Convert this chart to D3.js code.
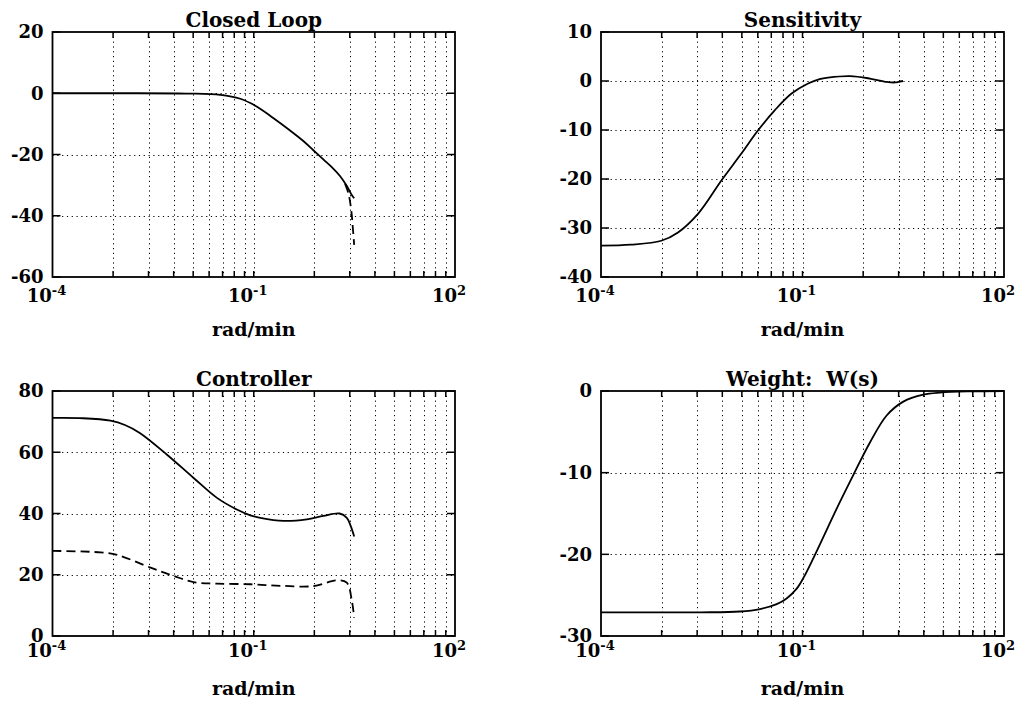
<!DOCTYPE html>
<html>
<head>
<meta charset="utf-8">
<script src="https://cdn.jsdelivr.net/npm/d3@7"></script>
<style>
  body { margin: 0; background: #fff; }
  svg text { font-family: "DejaVu Serif", serif; font-weight: bold; fill: #000; }
</style>
</head>
<body>
<svg id="fig" width="1020" height="703"></svg>
<script>
// ---- frequency responses (rad/min, dB) ----
const closedLoopFreq = [1e-4, 1e-3, 0.01, 0.0317, 0.063, 0.112, 0.195, 0.344, 0.548, 0.773, 1.09, 1.53, 1.93, 2.43, 2.89, 3.14];
const closedLoopMag  = [0, 0, -0.1, -0.5, -1.8, -4.4, -8.1, -12.1, -15.6, -18.6, -21.6, -24.6, -27.0, -30.2, -33.2, -34.3];
const closedLoopAltFreq = [2.3, 2.6, 2.85, 3.0, 3.14];
const closedLoopAltMag  = [-29.6, -33.0, -38.5, -44.0, -49.5];

const sensitivityFreq = [1e-4, 2.8e-4, 7.9e-4, 1.4e-3, 2.78e-3, 6.2e-3, 0.0123, 0.0217, 0.0385, 0.068, 0.121, 0.18, 0.24, 0.51, 1.01, 1.79, 2.4, 2.83, 3.14];
const sensitivityMag  = [-33.6, -33.4, -32.6, -30.9, -27.1, -20.3, -14.8, -10.1, -6.0, -2.6, -0.5, 0.4, 0.7, 1.0, 0.5, -0.2, -0.3, -0.1, 0];

const controllerFreq = [1e-4, 2.85e-4, 7.3e-4, 1.2e-3, 2.0e-3, 5.1e-3, 0.0127, 0.0283, 0.056, 0.089, 0.125, 0.278, 0.62, 1.09, 1.9, 2.44, 2.8, 3.14];
const controllerMag  = [71.2, 71.1, 70.3, 68.9, 66.3, 59.2, 51.6, 45.1, 41.3, 39.4, 38.6, 37.6, 38.1, 39.2, 40.0, 38.6, 35.8, 32.5];
const controllerAltFreq = [1e-4, 5.2e-4, 9.2e-4, 2.9e-3, 6.4e-3, 0.0127, 0.0283, 0.089, 0.248, 0.78, 1.73, 2.44, 2.9, 3.14];
const controllerAltMag  = [27.8, 27.3, 26.5, 22.3, 19.6, 17.6, 17.1, 16.9, 16.4, 16.3, 18.2, 17.4, 11.5, 6.0];

const weightFreq = [1e-4, 3e-3, 0.0117, 0.0233, 0.0413, 0.058, 0.082, 0.103, 0.163, 0.323, 0.57, 1.01, 1.79, 3.17, 6.3, 11.1, 30, 100];
const weightMag  = [-27.1, -27.1, -27.0, -26.7, -26.1, -25.4, -24.2, -22.9, -19.6, -14.4, -10.3, -6.3, -3.0, -1.3, -0.45, -0.2, -0.05, 0];

// ---- axes text ----
const titles = ["Closed Loop", "Sensitivity", "Controller", "Weight:  W(s)"];
const xLabel = "rad/min";
const xTickValues = [1e-4, 1e-1, 1e2];
const xTickExponents = ["-4", "-1", "2"];
const xDomain = [1e-4, 1e2];
const yDomains = [[-60, 20], [-40, 10], [0, 80], [-30, 0]];
const yTicks = [[-60, -40, -20, 0, 20], [-40, -30, -20, -10, 0, 10], [0, 20, 40, 60, 80], [-30, -20, -10, 0]];
// grid lines sit at k^3 multiples inside each labelled interval
const gridFactors = [2, 3, 4, 5, 6, 7, 8, 9];

const series = [
  [{ f: closedLoopFreq, m: closedLoopMag, dashed: false }, { f: closedLoopAltFreq, m: closedLoopAltMag, dashed: true }],
  [{ f: sensitivityFreq, m: sensitivityMag, dashed: false }],
  [{ f: controllerFreq, m: controllerMag, dashed: false }, { f: controllerAltFreq, m: controllerAltMag, dashed: true }],
  [{ f: weightFreq, m: weightMag, dashed: false }]
];

// ---- layout ----
const boxes = [
  { left: 52.5, right: 455, top: 32, bottom: 277, tickDy: 25, labelDy: 59 },
  { left: 601, right: 1004, top: 32, bottom: 277, tickDy: 25, labelDy: 59 },
  { left: 52.5, right: 455, top: 391, bottom: 636, tickDy: 21, labelDy: 59 },
  { left: 601, right: 1004, top: 391, bottom: 636, tickDy: 21, labelDy: 59 }
];

const svg = d3.select("#fig");
svg.append("rect").attr("width", 1020).attr("height", 703).attr("fill", "#fff");

const gridX = [];
[1e-4, 1e-1].forEach(base => gridFactors.forEach(k => gridX.push(base * k * k * k)));
gridX.push(1e-1);
gridX.sort((a, b) => a - b);

boxes.forEach((b, i) => {
  const g = svg.append("g");
  const x = d3.scaleLog().domain(xDomain).range([b.left, b.right]);
  const y = d3.scaleLinear().domain(yDomains[i]).range([b.bottom, b.top]);

  // dotted grid
  const grid = g.append("g").attr("stroke", "#000").attr("stroke-width", 1)
    .attr("stroke-dasharray", "1.2,3.6").attr("fill", "none");
  grid.selectAll("line.v").data(gridX).join("line").attr("class", "v")
    .attr("x1", d => Math.round(x(d)) + 0.5).attr("x2", d => Math.round(x(d)) + 0.5)
    .attr("y1", b.top).attr("y2", b.bottom);
  const yInner = yTicks[i].filter(v => v !== yDomains[i][0] && v !== yDomains[i][1]);
  grid.selectAll("line.h").data(yInner).join("line").attr("class", "h")
    .attr("x1", b.left).attr("x2", b.right)
    .attr("y1", d => Math.round(y(d)) + 0.5).attr("y2", d => Math.round(y(d)) + 0.5);

  // tick marks on all four sides
  const ticks = g.append("g").attr("stroke", "#000").attr("stroke-width", 1.5);
  ticks.selectAll("line.yl").data(yTicks[i]).join("line")
    .attr("x1", b.left).attr("x2", b.left + 8).attr("y1", d => y(d)).attr("y2", d => y(d));
  ticks.selectAll("line.yr").data(yTicks[i]).join("line")
    .attr("x1", b.right).attr("x2", b.right - 8).attr("y1", d => y(d)).attr("y2", d => y(d));
  ticks.selectAll("line.xb").data(gridX).join("line")
    .attr("x1", d => x(d)).attr("x2", d => x(d)).attr("y1", b.bottom).attr("y2", b.bottom - 6);
  ticks.selectAll("line.xt").data(gridX).join("line")
    .attr("x1", d => x(d)).attr("x2", d => x(d)).attr("y1", b.top).attr("y2", b.top + 6);

  // curves
  const line = d3.line().x(d => x(d[0])).y(d => y(d[1])).curve(d3.curveCatmullRom.alpha(0.5));
  series[i].forEach(s => {
    g.append("path")
      .attr("d", line(s.f.map((f, j) => [f, s.m[j]])))
      .attr("fill", "none").attr("stroke", "#000").attr("stroke-width", 1.8)
      .attr("stroke-linejoin", "round")
      .attr("stroke-dasharray", s.dashed ? "9,5" : null);
  });

  // frame
  g.append("rect").attr("x", b.left).attr("y", b.top)
    .attr("width", b.right - b.left).attr("height", b.bottom - b.top)
    .attr("fill", "none").attr("stroke", "#000").attr("stroke-width", 1.8);

  // y tick labels
  g.selectAll("text.yl").data(yTicks[i]).join("text")
    .attr("x", b.left - 9).attr("y", d => y(d)).attr("dy", "0.36em")
    .attr("text-anchor", "end").attr("font-size", 18)
    .text(d => String(d));

  // x tick labels (powers of ten)
  xTickValues.forEach((v, j) => {
    const t = g.append("text").attr("x", x(v) - 6).attr("y", b.bottom + b.tickDy)
      .attr("text-anchor", "middle");
    t.append("tspan").attr("font-size", 18).text("10");
    t.append("tspan").attr("font-size", 13).attr("dy", -7).text(xTickExponents[j]);
  });

  // title and x label
  g.append("text").attr("x", (b.left + b.right) / 2).attr("y", b.top - 5)
    .attr("text-anchor", "middle").attr("font-size", 20)
    .style("white-space", "pre").attr("xml:space", "preserve")
    .text(titles[i]);
  g.append("text").attr("x", (b.left + b.right) / 2).attr("y", b.bottom + b.labelDy)
    .attr("text-anchor", "middle").attr("font-size", 19)
    .text(xLabel);
});
</script>
</body>
</html>
